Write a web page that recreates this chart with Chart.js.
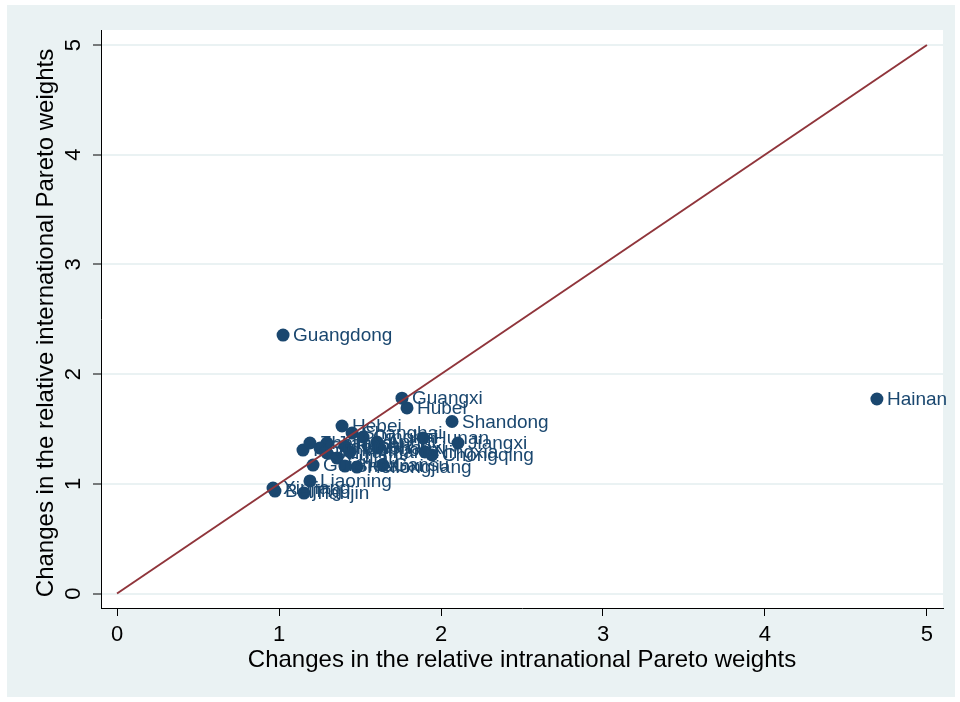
<!DOCTYPE html>
<html>
<head>
<meta charset="utf-8">
<script src="https://cdn.jsdelivr.net/npm/chart.js@4.4.1/dist/chart.umd.min.js"></script>
<style>
  html, body { margin: 0; padding: 0; background: #ffffff; }
  #wrap { width: 960px; height: 702px; position: relative; }
</style>
</head>
<body>
<div id="wrap"><canvas id="chart" width="960" height="702"></canvas></div>
<script>
// Province-level changes in relative Pareto weights
const provinces = [
  'Beijing', 'Tianjin', 'Hebei', 'Shanxi', 'Inner Mongolia', 'Liaoning', 'Jilin',
  'Heilongjiang', 'Shanghai', 'Jiangsu', 'Zhejiang', 'Anhui', 'Fujian', 'Jiangxi',
  'Shandong', 'Henan', 'Hubei', 'Hunan', 'Guangdong', 'Guangxi', 'Hainan',
  'Chongqing', 'Sichuan', 'Guizhou', 'Yunnan', 'Shaanxi', 'Gansu', 'Qinghai',
  'Ningxia', 'Xinjiang'
];
const intranational = [
  0.975, 1.154, 1.389, 1.611, 1.148, 1.191, 1.296,
  1.481, 1.451, 1.296, 1.191, 1.605, 1.358, 2.105,
  2.068, 1.407, 1.790, 1.889, 1.025, 1.759, 4.691,
  1.944, 1.253, 1.210, 1.438, 1.407, 1.642, 1.519,
  1.901, 0.963
];
const international = [
  0.934, 0.916, 1.527, 1.326, 1.308, 1.026, 1.281,
  1.153, 1.463, 1.372, 1.372, 1.381, 1.235, 1.372,
  1.568, 1.345, 1.692, 1.418, 2.356, 1.781, 1.773,
  1.263, 1.326, 1.171, 1.290, 1.162, 1.171, 1.427,
  1.290, 0.962
];
const tickValues = [0, 1, 2, 3, 4, 5];
const equalityLineEnds = [0, 5];

const xTitle = 'Changes in the relative intranational Pareto weights';
const yTitle = 'Changes in the relative international Pareto weights';

const NAVY = '#1A476F';
const MAROON = '#90353B';
const PANEL = '#EAF2F3';
const FONT = '"Liberation Sans", Arial, Helvetica, sans-serif';

const points = provinces.map((p, i) => ({ x: intranational[i], y: international[i], name: p }));
const lineData = equalityLineEnds.map(v => ({ x: v, y: v }));

const frame = {
  id: 'frame',
  beforeDraw(chart) {
    const { ctx, chartArea: a } = chart;
    ctx.save();
    ctx.fillStyle = '#ffffff';
    ctx.fillRect(0, 0, chart.width, chart.height);
    ctx.fillStyle = PANEL;
    ctx.fillRect(7, 5, 948, 692);
    ctx.fillStyle = '#ffffff';
    ctx.fillRect(a.left, a.top, a.right - a.left, a.bottom - a.top);
    ctx.restore();
  },
  afterDatasetDraw(chart, args) {
    if (args.meta.type !== 'scatter') return;
    const ctx = chart.ctx;
    ctx.save();
    ctx.font = '19px ' + FONT;
    ctx.fillStyle = NAVY;
    ctx.textAlign = 'left';
    ctx.textBaseline = 'middle';
    args.meta.data.forEach((el, i) => {
      ctx.fillText(provinces[i], el.x + 10, el.y + 1);
    });
    ctx.restore();
  },
  afterDraw(chart) {
    const { ctx, chartArea: a } = chart;
    const xs = chart.scales.x, ys = chart.scales.y;
    ctx.save();
    ctx.fillStyle = '#000000';
    // x tick labels
    ctx.font = '22px ' + FONT;
    ctx.textAlign = 'center';
    ctx.textBaseline = 'alphabetic';
    tickValues.forEach(v => ctx.fillText(String(v), xs.getPixelForValue(v), 641));
    // y tick labels, rotated
    tickValues.forEach(v => {
      ctx.save();
      ctx.translate(80, ys.getPixelForValue(v));
      ctx.rotate(-Math.PI / 2);
      ctx.fillText(String(v), 0, 0);
      ctx.restore();
    });
    // axis titles
    ctx.font = '24px ' + FONT;
    ctx.fillText(xTitle, (a.left + a.right) / 2, 667);
    ctx.save();
    ctx.translate(53, 323);
    ctx.rotate(-Math.PI / 2);
    ctx.fillText(yTitle, 0, 0);
    ctx.restore();
    ctx.restore();
  }
};

new Chart(document.getElementById('chart'), {
  type: 'scatter',
  data: {
    datasets: [
      {
        type: 'scatter',
        data: points,
        backgroundColor: NAVY,
        borderColor: NAVY,
        borderWidth: 0,
        pointRadius: 6.5,
        pointHoverRadius: 6.5,
        order: 1
      },
      {
        type: 'line',
        data: lineData,
        borderColor: MAROON,
        borderWidth: 2,
        pointRadius: 0,
        fill: false,
        order: 0
      }
    ]
  },
  options: {
    responsive: false,
    animation: false,
    devicePixelRatio: 1,
    layout: { autoPadding: false, padding: { left: 0, top: 30, right: 17, bottom: 0 } },
    plugins: { legend: { display: false }, tooltip: { enabled: false } },
    scales: {
      x: {
        type: 'linear',
        min: -0.099,
        max: 5.099,
        afterBuildTicks: s => { s.ticks = tickValues.map(v => ({ value: v })); },
        afterFit: s => { s.height = 94; },
        ticks: { display: false },
        grid: { display: true, drawOnChartArea: false, drawTicks: true, tickLength: 8, tickColor: '#000', tickWidth: 1 },
        border: { display: true, color: '#000', width: 1 }
      },
      y: {
        type: 'linear',
        min: -0.132,
        max: 5.137,
        afterBuildTicks: s => { s.ticks = tickValues.map(v => ({ value: v })); },
        afterFit: s => { s.width = 101; },
        ticks: { display: false },
        grid: { color: PANEL, lineWidth: 2, drawTicks: true, tickLength: 8, tickColor: '#000', tickWidth: 1 },
        border: { display: true, color: '#000', width: 1 }
      }
    }
  },
  plugins: [frame]
});
</script>
</body>
</html>
